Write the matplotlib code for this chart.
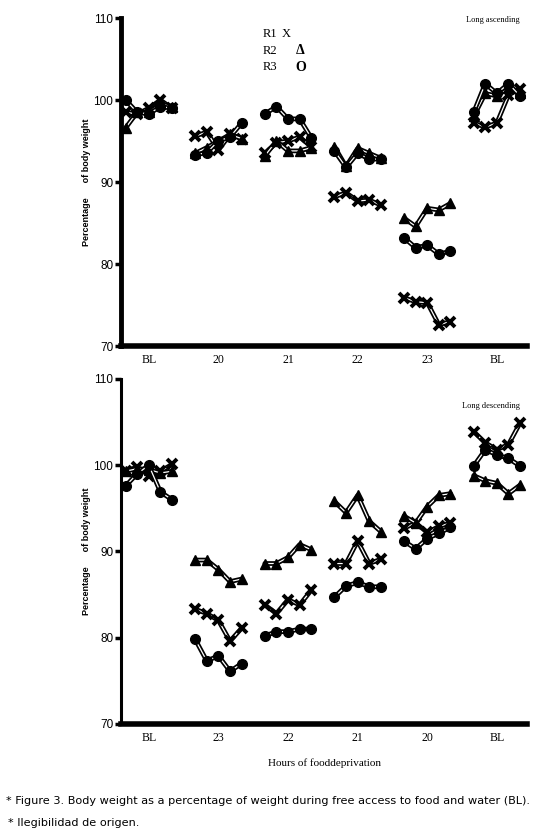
import matplotlib
matplotlib.use("Agg")
import matplotlib.pyplot as plt

# ---------------- data ----------------
top_groups = ["BL", "20", "21", "22", "23", "BL"]
top_R1 = [[98.5, 98.3, 99.0, 100.0, 99.0],
          [95.6, 96.1, 93.9, 95.8, 95.3],
          [93.5, 94.8, 95.0, 95.5, 94.3],
          [88.2, 88.7, 87.7, 87.8, 87.2],
          [75.9, 75.4, 75.3, 72.6, 73.0],
          [97.2, 96.7, 97.2, 100.6, 101.4]]
top_R2 = [[96.6, 98.5, 98.5, 99.5, 99.2],
          [93.5, 94.2, 95.0, 95.8, 95.3],
          [93.2, 95.0, 93.8, 93.8, 94.2],
          [94.3, 91.9, 94.1, 93.5, 92.9],
          [85.6, 84.6, 86.8, 86.6, 87.4],
          [98.0, 100.8, 100.5, 101.5, 100.8]]
top_R3 = [[100.0, 98.5, 98.3, 99.2, 99.0],
          [93.3, 93.6, 95.0, 95.5, 97.2],
          [98.3, 99.2, 97.7, 97.7, 95.4],
          [93.8, 91.8, 93.5, 92.8, 92.8],
          [83.2, 82.0, 82.3, 81.2, 81.6],
          [98.5, 102.0, 100.8, 102.0, 100.5]]

bot_groups = ["BL", "23", "22", "21", "20", "BL"]
bot_R1 = [[99.3, 99.8, 98.8, 99.3, 100.1],
          [83.3, 82.8, 82.0, 79.6, 81.1],
          [83.8, 82.8, 84.4, 83.8, 85.5],
          [88.6, 88.6, 91.2, 88.6, 89.1],
          [92.7, 93.3, 92.2, 92.9, 93.3],
          [103.9, 102.6, 101.8, 102.4, 104.9]]
bot_R2 = [[99.3, 99.6, 99.5, 99.1, 99.3],
          [89.0, 89.0, 87.9, 86.5, 86.8],
          [88.6, 88.6, 89.3, 90.8, 90.2],
          [95.8, 94.5, 96.5, 93.5, 92.3],
          [94.1, 93.3, 95.2, 96.5, 96.7],
          [98.8, 98.2, 97.9, 96.7, 97.7]]
bot_R3 = [[97.6, 99.0, 100.0, 96.9, 96.0],
          [79.8, 77.3, 77.9, 76.1, 77.0],
          [80.2, 80.7, 80.7, 81.0, 81.0],
          [84.7, 86.0, 86.4, 85.9, 85.9],
          [91.2, 90.3, 91.5, 92.1, 92.8],
          [99.9, 101.8, 101.2, 100.8, 99.9]]

yticks = [70, 80, 90, 100, 110]

# ---------------- figure ----------------
fig = plt.figure(figsize=(5.4, 8.34), dpi=100)
serif = "Liberation Serif"
sans = "Liberation Sans"


def panel(ax, groups, series, left_lw):
    for data, mk, ms, mew in series:
        for g, vals in enumerate(data):
            xs = [g * 6 + i for i in range(len(vals))]
            ax.plot(xs, vals, color="black", lw=3.4, solid_capstyle="round")
            ax.plot(xs, vals, color="white", lw=0.9, solid_capstyle="round")
            ax.plot(xs, vals, ls="none", marker=mk, ms=ms, mew=mew,
                    mfc="black", mec="black")
    ax.set_xlim(-0.4, 34.6)
    ax.set_ylim(70, 110)
    ax.set_yticks(yticks)
    ax.set_yticklabels([str(v) for v in yticks], fontfamily=sans, fontsize=8.5)
    ax.set_xticks([g * 6 + 2 for g in range(len(groups))])
    ax.set_xticklabels(groups, fontfamily=serif, fontsize=8.5)
    ax.tick_params(axis="x", length=0, pad=6)
    ax.tick_params(axis="y", length=4, width=2.5, pad=1.5)
    for s in ["top", "right"]:
        ax.spines[s].set_visible(False)
    ax.spines["left"].set_linewidth(left_lw)
    ax.spines["bottom"].set_linewidth(4)
    ax.text(-0.085, 0.5, "Percentage      of body weight", rotation=90,
            transform=ax.transAxes, ha="center", va="center",
            fontfamily=sans, fontsize=6.5, fontweight="bold")


ax1 = fig.add_axes([0.224, 0.585, 0.752, 0.3934])
panel(ax1, top_groups,
      [(top_R1, "x", 7, 2.8), (top_R2, "^", 7.5, 1), (top_R3, "o", 7, 1)], 3.5)
ax1.text(0.982, 1.005, "Long ascending", transform=ax1.transAxes, ha="right",
         va="top", fontfamily=serif, fontsize=6)
for i, (lab, sym) in enumerate([("R1", "X"), ("R2", "Δ"), ("R3", "O")]):
    yy = 0.95 - i * 0.05
    ax1.text(0.349, yy, lab, transform=ax1.transAxes, fontfamily=serif,
             fontsize=9, va="center")
    ax1.text(0.395 if i == 0 else 0.43, yy, sym, transform=ax1.transAxes,
             fontfamily=serif, fontsize=9 if i == 0 else 10,
             fontweight="normal" if i == 0 else "bold", va="center")

ax2 = fig.add_axes([0.224, 0.132, 0.752, 0.4136])
panel(ax2, bot_groups,
      [(bot_R1, "x", 7, 2.8), (bot_R2, "^", 7.5, 1), (bot_R3, "o", 7, 1)], 2.2)
ax2.text(0.982, 0.91, "Long descending", transform=ax2.transAxes, ha="right",
         va="bottom", fontfamily=serif, fontsize=6)
ax2.set_xlabel("Hours of fooddeprivation", fontfamily=serif, fontsize=8,
               labelpad=10)

fig.text(0.012, 0.040, "* Figure 3. Body weight as a percentage of weight during free access to food and water (BL).",
         fontfamily="DejaVu Sans", fontsize=8.1, va="center")
fig.text(0.014, 0.013, "* Ilegibilidad de origen.",
         fontfamily="DejaVu Sans", fontsize=8.1, va="center")

fig.savefig("out.png", dpi=100)
